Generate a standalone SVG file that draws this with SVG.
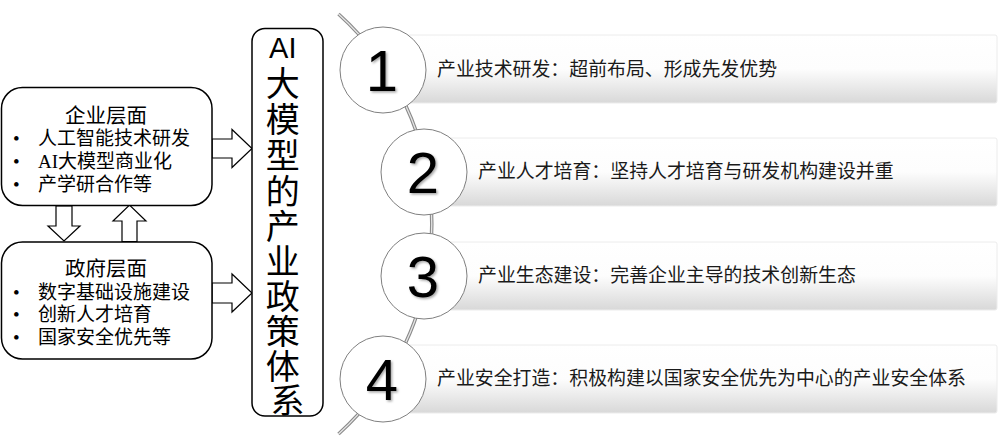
<svg xmlns="http://www.w3.org/2000/svg" width="1004" height="448" viewBox="0 0 1004 448">
<style>
.box{fill:#fff;stroke:#000;stroke-width:1.5}
.arr{fill:#fff;stroke:#000;stroke-width:1.2;stroke-linejoin:miter}
.lt{font-family:"Liberation Serif","Noto Sans CJK SC",serif;fill:#000}
.tt{font-family:"Liberation Sans","Noto Sans CJK SC",sans-serif;font-size:34px;fill:#000;text-anchor:middle}
.bar{fill:url(#barg);stroke:#ececec;stroke-width:1}
.circ{fill:#fff;stroke:#7f7f7f;stroke-width:1}
.num{font-family:"Liberation Sans",Arial,sans-serif;font-size:58px;fill:#000;text-anchor:middle;filter:url(#sh)}
.bt{font-family:"Noto Sans CJK SC",sans-serif;font-size:18.9px;fill:#1a1a1a}
</style>
<defs>
<linearGradient id="barg" x1="0" y1="0" x2="0" y2="1">
<stop offset="0" stop-color="#ffffff"/>
<stop offset="0.5" stop-color="#fdfdfd"/>
<stop offset="1" stop-color="#d8d8d8"/>
</linearGradient>
<filter id="sh" x="-20%" y="-20%" width="150%" height="150%">
<feDropShadow dx="1.5" dy="1.5" stdDeviation="1" flood-color="#000" flood-opacity="0.35"/>
</filter>
</defs>
<rect width="1004" height="448" fill="#fff"/>

<g id="connectors">
<path d="M338.5,14 A283,283 0 0 1 338.5,434" fill="none" stroke="#8a8a8a" stroke-width="3.5"/>
<path d="M338.5,14 A283,283 0 0 1 338.5,434" fill="none" stroke="#e6e6e6" stroke-width="1.3"/>
<polygon class="arr" points="212,139 232,139 232,129.5 252,148.5 232,167.5 232,158 212,158"/>
<polygon class="arr" points="212,283 232,283 232,274 252,293 232,312 232,303 212,303"/>
<polygon class="arr" points="56,206 72,206 72,226 80,226 64,241 48,226 56,226"/>
<polygon class="arr" points="122,241.5 137,241.5 137,221 146,221 129.5,205 113,221 122,221"/>
</g>

<g id="enterprise">
<rect class="box" x="1.5" y="87.5" width="210.5" height="118" rx="21"/>
<text class="lt" x="106" y="123" font-size="20.5" text-anchor="middle">企业层面</text>
<text class="lt" x="13" y="144.5" font-size="19">•</text>
<text class="lt" x="38" y="144.5" font-size="19">人工智能技术研发</text>
<text class="lt" x="13" y="168" font-size="19">•</text>
<text class="lt" x="38" y="168" font-size="19">AI大模型商业化</text>
<text class="lt" x="13" y="190.5" font-size="19">•</text>
<text class="lt" x="38" y="190.5" font-size="19">产学研合作等</text>
</g>

<g id="government">
<rect class="box" x="1.5" y="242" width="210.5" height="117" rx="21"/>
<text class="lt" x="106" y="275.5" font-size="20.5" text-anchor="middle">政府层面</text>
<text class="lt" x="13" y="299" font-size="19">•</text>
<text class="lt" x="38" y="299" font-size="19">数字基础设施建设</text>
<text class="lt" x="13" y="321" font-size="19">•</text>
<text class="lt" x="38" y="321" font-size="19">创新人才培育</text>
<text class="lt" x="13" y="344" font-size="19">•</text>
<text class="lt" x="38" y="344" font-size="19">国家安全优先等</text>
</g>

<g id="policy">
<rect class="box" x="252" y="28.5" width="71" height="387.5" rx="13"/>
<text class="tt">
<tspan x="287.5" y="57.5" font-size="29">AI</tspan>
<tspan x="287.5" y="95.5">大</tspan>
<tspan x="287.5" y="131.5">模</tspan>
<tspan x="287.5" y="167.5">型</tspan>
<tspan x="287.5" y="203.5">的</tspan>
<tspan x="287.5" y="239">产</tspan>
<tspan x="287.5" y="274">业</tspan>
<tspan x="287.5" y="309">政</tspan>
<tspan x="287.5" y="343.5">策</tspan>
<tspan x="287.5" y="378.5">体</tspan>
<tspan x="287.5" y="413">系</tspan>
</text>
</g>

<g id="item1">
<rect class="bar" x="383" y="35" width="614" height="68" rx="2"/>
<circle class="circ" cx="383" cy="70" r="43"/>
<text class="num" x="382" y="90.5">1</text>
<text class="bt" x="437" y="75.5">产业技术研发：超前布局、形成先发优势</text>
</g>

<g id="item2">
<rect class="bar" x="424" y="138" width="573" height="68" rx="2"/>
<circle class="circ" cx="424" cy="172" r="43"/>
<text class="num" x="423" y="192.5">2</text>
<text class="bt" x="478" y="178">产业人才培育：坚持人才培育与研发机构建设并重</text>
</g>

<g id="item3">
<rect class="bar" x="424" y="242" width="573" height="68" rx="2"/>
<circle class="circ" cx="424" cy="276" r="43"/>
<text class="num" x="423" y="296.5">3</text>
<text class="bt" x="478" y="282">产业生态建设：完善企业主导的技术创新生态</text>
</g>

<g id="item4">
<rect class="bar" x="383" y="345" width="614" height="68" rx="2"/>
<circle class="circ" cx="383" cy="379" r="43"/>
<text class="num" x="382" y="399.5">4</text>
<text class="bt" x="437" y="385">产业安全打造：积极构建以国家安全优先为中心的产业安全体系</text>
</g>
</svg>
